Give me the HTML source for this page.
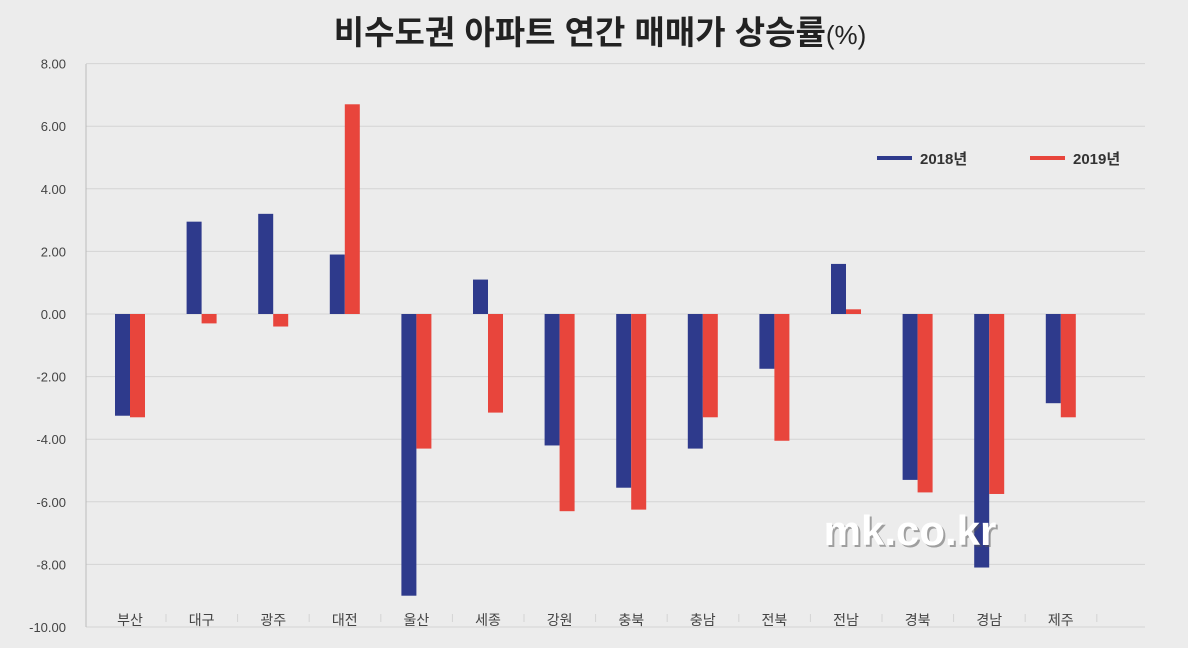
<!DOCTYPE html>
<html><head><meta charset="utf-8"><style>
body{margin:0;background:#ececec;}
svg{display:block;font-family:"Liberation Sans","Noto Sans CJK KR",sans-serif;}
</style></head><body>
<svg width="1188" height="648" viewBox="0 0 1188 648">
<rect width="1188" height="648" fill="#ececec"/>
<text x="600" y="44" text-anchor="middle" font-size="33" font-weight="bold" fill="#222">비수도권 아파트 연간 매매가 상승률<tspan font-size="26" font-weight="normal">(%)</tspan></text>
<g id="grid" stroke="#d4d4d4" stroke-width="1"></g>
<g id="bars"></g>
<line x1="86" y1="64" x2="86" y2="627" stroke="#bbb"/>
<g font-size="13" fill="#444" text-anchor="end" id="yl"></g>
<g font-size="14" fill="#444" text-anchor="middle" id="xl"></g>
<rect x="877" y="156" width="35" height="4" fill="#2e3a8c"/>
<text x="920" y="164" font-size="15" font-weight="bold" fill="#333">2018년</text>
<rect x="1030" y="156" width="35" height="4" fill="#e8453c"/>
<text x="1073" y="164" font-size="15" font-weight="bold" fill="#333">2019년</text>
<text x="912" y="547" text-anchor="middle" font-size="42" font-weight="bold" fill="#555" opacity="0.5">mk.co.kr</text>
<text x="910" y="545" text-anchor="middle" font-size="42" font-weight="bold" fill="#fff">mk.co.kr</text>
</svg>
<script>
var ns="http://www.w3.org/2000/svg";
function el(t,a,p,txt){var e=document.createElementNS(ns,t);for(var k in a)e.setAttribute(k,a[k]);if(txt)e.textContent=txt;document.getElementById(p).appendChild(e);}
function y(v){return 314-v*31.3;}
for(var v=8;v>=-10;v-=2){el('line',{x1:86,x2:1145,y1:y(v),y2:y(v)},'grid');el('text',{x:66,y:y(v)+5},'yl',v.toFixed(2));}
var c=["부산","대구","광주","대전","울산","세종","강원","충북","충남","전북","전남","경북","경남","제주"];
var a=[-3.25,2.95,3.2,1.9,-9.0,1.1,-4.2,-5.55,-4.3,-1.75,1.6,-5.3,-8.1,-2.85];
var b=[-3.3,-0.3,-0.4,6.7,-4.3,-3.15,-6.3,-6.25,-3.3,-4.05,0.15,-5.7,-5.75,-3.3];
for(var i=0;i<14;i++){var cx=130+i*71.6;
el('rect',{x:cx-15,y:Math.min(y(a[i]),314),width:15,height:Math.abs(a[i]*31.3),fill:'#2e3a8c'},'bars');
el('rect',{x:cx,y:Math.min(y(b[i]),314),width:15,height:Math.abs(b[i]*31.3),fill:'#e8453c'},'bars');
el('text',{x:cx,y:625},'xl',c[i]);
el('line',{x1:cx+36,x2:cx+36,y1:614,y2:622},'grid');}
</script>
</body></html>
